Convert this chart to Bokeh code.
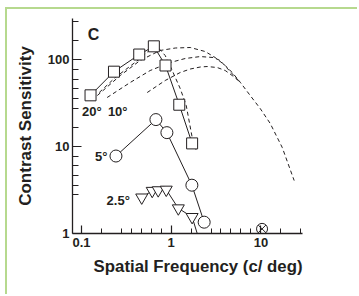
from bokeh.plotting import figure
from bokeh.models import FixedTicker, Label, Range1d, Title
from bokeh.embed import file_html
from bokeh.resources import INLINE

# ---------------- data ----------------
# squares (20 deg / 10 deg)
sq_x = [0.126, 0.23, 0.44, 0.64, 0.864, 1.23, 1.71]
sq_y = [39, 73, 115, 143, 86, 30.4, 10.9]
# circles (5 deg)
circ_x = [0.242, 0.675, 0.895, 1.70, 2.33]
circ_y = [7.8, 20.5, 14.5, 3.6, 1.35]
# inverted triangles (2.5 deg)
tri_x = [0.469, 0.614, 0.716, 0.88, 1.2, 1.71]
tri_y = [2.6, 3.1, 3.15, 3.2, 1.95, 1.55]
tri_end_x = [1.71, 1.95]
tri_end_y = [1.55, 1.0]
# crossed circle
cross_x = [10.3]
cross_y = [1.13]

# dashed model curves
d0_x = [0.1575, 0.2375, 0.451, 0.583, 0.698, 0.857, 1.026, 1.26, 1.47, 1.715, 1.90]
d0_y = [42, 62.5, 103.5, 131.4, 142, 112, 75.3, 46.7, 29.8, 12.7, 9.03]
d1_x = [0.15, 0.27, 0.45, 0.75, 1.11, 1.63, 2.39, 3.09, 4.0, 4.79, 5.88, 7.6, 9.82, 12.7, 17.3, 23.5]
d1_y = [38.8, 65.9, 98.2, 128, 136.7, 138.6, 124.6, 106.3, 86, 71.4, 55.2, 38.8, 27.5, 18.5, 9.78, 4.07]
d2_x = [0.193, 0.349, 0.583, 0.975, 1.433, 2.105, 2.94, 3.52, 4.55, 5.88]
d2_y = [36.8, 54.8, 75.3, 93.1, 103.5, 109, 106.3, 98.2, 73, 55.2]
d3_x = [0.54, 0.857, 1.26, 1.628, 2.105, 2.52, 3.257, 4.0, 4.79, 5.88]
d3_y = [42, 57.8, 71.4, 78.3, 82.6, 83.7, 81.5, 75.3, 65.9, 55.2]

x_major = [0.1, 1, 10]
x_minor = [0.167, 0.278, 0.359, 0.464, 0.599, 0.774,
           1.67, 2.78, 3.59, 4.64, 5.99, 7.74, 16.7, 27.8]
y_major = [1, 10, 100]
y_minor = [2.78, 3.59, 4.64, 5.99, 7.74,
           16.7, 27.8, 35.9, 46.4, 59.9, 77.4, 167, 278]

FONT = "Liberation Sans"
INK = "#231f20"
GREEN = "#b6d98e"

p = figure(width=352, height=287, x_axis_type="log", y_axis_type="log",
           x_range=Range1d(0.0793, 29.1), y_range=Range1d(1, 299),
           output_backend="svg", toolbar_location=None,
           min_border_left=65, min_border_right=57,
           min_border_top=9, min_border_bottom=63)
p.styles = {"border-left": f"2px solid {GREEN}", "border-top": f"2px solid {GREEN}",
            "margin-left": "5px", "margin-top": "7px"}
p.outline_line_color = None
p.grid.visible = False
p.background_fill_color = "white"
p.border_fill_color = "white"

for ax, major, minor, labels in [
        (p.xaxis, x_major, x_minor, {0.1: "0.1", 1: "1", 10: "10"}),
        (p.yaxis, y_major, y_minor, {1: "1", 10: "10", 100: "100"})]:
    ax.ticker = FixedTicker(ticks=major, minor_ticks=minor)
    ax.major_label_overrides = labels
    ax.axis_line_color = INK
    ax.axis_line_width = 1.3
    ax.major_tick_line_color = INK
    ax.minor_tick_line_color = INK
    ax.major_tick_line_width = 1.2
    ax.minor_tick_line_width = 1
    ax.major_tick_out = 0
    ax.minor_tick_out = 0
    ax.major_label_text_font = FONT
    ax.major_label_text_font_style = "bold"
    ax.major_label_text_font_size = "13px"
    ax.major_label_text_color = INK

p.xaxis.major_tick_in = 8
p.xaxis.minor_tick_in = 5
p.xaxis.major_label_standoff = 4
p.yaxis.major_tick_in = 9
p.yaxis.minor_tick_in = 6
p.yaxis.major_label_standoff = 3

p.yaxis.axis_label = "Contrast Sensitivity"
p.yaxis.axis_label_text_font = FONT
p.yaxis.axis_label_text_font_style = "bold"
p.yaxis.axis_label_text_font_size = "17px"
p.yaxis.axis_label_text_color = INK
p.yaxis.axis_label_standoff = 10

p.add_layout(Title(text="Spatial Frequency (c/ deg)", align="right",
                   text_font=FONT, text_font_style="bold", text_font_size="16.8px",
                   text_color=INK, standoff=11), "below")

# dashed curves
for dx, dy in [(d0_x, d0_y), (d1_x, d1_y), (d2_x, d2_y), (d3_x, d3_y)]:
    p.line(dx, dy, line_color=INK, line_width=1, line_dash="4 3")

# data lines and markers
p.line(sq_x, sq_y, line_color=INK, line_width=1)
p.scatter(sq_x, sq_y, marker="square", size=11, fill_color="white",
          line_color=INK, line_width=1)
p.line(circ_x, circ_y, line_color=INK, line_width=1)
p.scatter(circ_x, circ_y, marker="circle", size=12, fill_color="white",
          line_color=INK, line_width=1)
p.line(tri_x, tri_y, line_color=INK, line_width=1)
p.line(tri_end_x, tri_end_y, line_color=INK, line_width=1)
p.scatter(tri_x, tri_y, marker="inverted_triangle", size=12, fill_color="white",
          line_color=INK, line_width=1)
p.scatter(cross_x, cross_y, marker="circle_x", size=11, fill_color="white",
          line_color=INK, line_width=1)

# text labels
def lab(x, y, t, size):
    p.add_layout(Label(x=x, y=y, text=t, text_font=FONT, text_font_style="bold",
                       text_font_size=size, text_color=INK,
                       text_align="center", text_baseline="middle"))

lab(0.136, 196.7, "C", "16px")
lab(0.130, 25.4, "20°", "13px")
lab(0.2532, 25.4, "10°", "13px")
lab(0.1658, 7.70, "5°", "13px")
lab(0.2565, 2.40, "2.5°", "13px")

open("out.html", "w").write(file_html(p, INLINE))
